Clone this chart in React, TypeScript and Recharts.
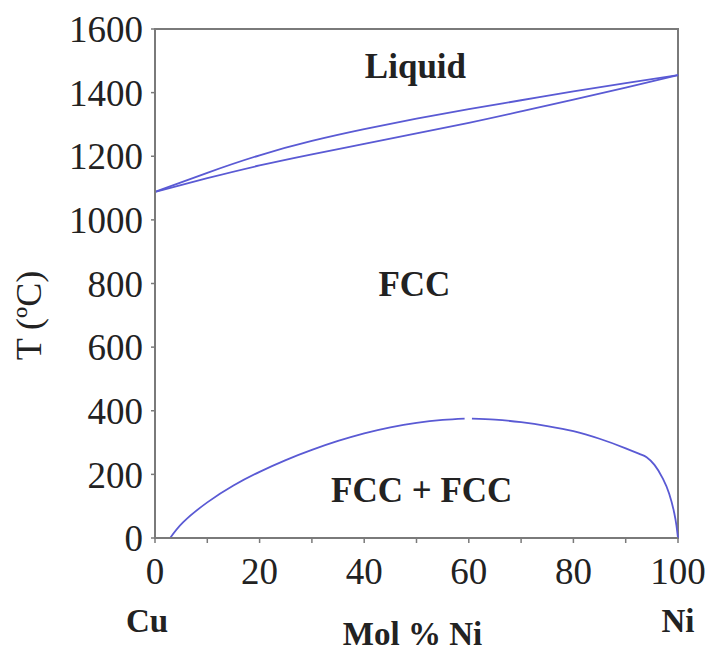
import { ComposedChart, Line, XAxis, YAxis, ReferenceDot, ReferenceArea } from "recharts";

const xTicks = [0, 10, 20, 30, 40, 50, 60, 70, 80, 90, 100];
const yTicks = [0, 200, 400, 600, 800, 1000, 1200, 1400, 1600];

// liquidus / solidus (Mol % Ni, T in ºC)
const liquidus = [
  { ni: 0, t: 1088 }, { ni: 10, t: 1148 }, { ni: 20, t: 1203 }, { ni: 30, t: 1248 },
  { ni: 40, t: 1285 }, { ni: 50, t: 1318 }, { ni: 60, t: 1348 }, { ni: 70, t: 1376 },
  { ni: 80, t: 1404 }, { ni: 90, t: 1430 }, { ni: 100, t: 1455 },
];
const solidus = [
  { ni: 0, t: 1088 }, { ni: 10, t: 1131 }, { ni: 20, t: 1171 }, { ni: 30, t: 1206 },
  { ni: 40, t: 1239 }, { ni: 50, t: 1272 }, { ni: 60, t: 1305 }, { ni: 70, t: 1341 },
  { ni: 80, t: 1378 }, { ni: 90, t: 1416 }, { ni: 100, t: 1455 },
];
// miscibility gap, drawn in two pieces
const gapLeft = [
  { ni: 2.9, t: 0 }, { ni: 5.4, t: 50 }, { ni: 10, t: 112 }, { ni: 15, t: 165 },
  { ni: 20, t: 208 }, { ni: 25, t: 245 }, { ni: 30, t: 277 }, { ni: 35, t: 305 },
  { ni: 40, t: 329 }, { ni: 45, t: 348 }, { ni: 50, t: 362 }, { ni: 55, t: 371 },
  { ni: 59.2, t: 375 },
];
const gapRight = [
  { ni: 60.6, t: 375 }, { ni: 65, t: 372 }, { ni: 70, t: 364 }, { ni: 75, t: 352 },
  { ni: 80, t: 336 }, { ni: 85, t: 312 }, { ni: 90, t: 282 }, { ni: 92.5, t: 265 },
  { ni: 94, t: 254 }, { ni: 95.5, t: 230 }, { ni: 97, t: 190 }, { ni: 98.3, t: 140 },
  { ni: 99.2, t: 85 }, { ni: 99.7, t: 40 }, { ni: 100, t: 0 },
];

const regions = [
  { ni: 49.8, t: 1483, text: "Liquid" },
  { ni: 49.6, t: 800, text: "FCC" },
  { ni: 51, t: 150, text: "FCC + FCC" },
];
const ends: Record<number, string> = { 0: "Cu", 100: "Ni" };

const FONT = "'Liberation Serif', serif";
const LINE = "#5a5ad4";
const AXIS = "#7a7a7a";

function XTick({ x, y, payload }: any) {
  const v = payload.value;
  return (
    <g>
      {v % 20 === 0 && (
        <text x={x} y={y} dy={41} textAnchor="middle" fontFamily={FONT} fontSize={37} fill="#222">
          {v}
        </text>
      )}
      {ends[v] && (
        <text x={x - (v === 0 ? 8 : 0)} y={y} dy={89} textAnchor="middle" fontFamily={FONT} fontSize={33} fontWeight="bold" fill="#222">
          {ends[v]}
        </text>
      )}
    </g>
  );
}

function RegionLabel({ viewBox, value }: any) {
  return (
    <text x={viewBox.x} y={viewBox.y} dy={12} textAnchor="middle" fontFamily={FONT} fontSize={35} fontWeight="bold" fill="#222">
      {value}
    </text>
  );
}

function XLabel({ viewBox }: any) {
  const cx = viewBox.x + viewBox.width / 2 - 4;
  return (
    <text x={cx} y={viewBox.y + 107} textAnchor="middle" fontFamily={FONT} fontSize={33} fontWeight="bold" fill="#222">
      Mol % Ni
    </text>
  );
}

function YLabel({ viewBox }: any) {
  const cx = 29;
  const cy = viewBox.y + viewBox.height / 2 + 32;
  return (
    <text x={cx} y={cy} transform={`rotate(-90 ${cx} ${cy})`} textAnchor="middle" dominantBaseline="central" fontFamily={FONT} fontSize={36} fill="#222">
      T (ºC)
    </text>
  );
}

export default function App() {
  return (
    <div style={{ position: "absolute", left: 0, top: 0, background: "#fff" }}>
      <ComposedChart width={710} height={653} margin={{ top: 29, right: 32, bottom: 0, left: 0 }}>
        <XAxis
          dataKey="ni" type="number" domain={[0, 100]} ticks={xTicks} interval={0}
          height={115} tickSize={5} tickMargin={0}
          stroke={AXIS} strokeWidth={2} tickLine={{ stroke: AXIS, strokeWidth: 1.5 }}
          tick={<XTick />}
          label={<XLabel />}
          allowDuplicatedCategory={false}
        />
        <YAxis
          type="number" domain={[0, 1600]} ticks={yTicks} interval={0} width={155}
          tickSize={4} tickMargin={8} stroke={AXIS} strokeWidth={2}
          tickLine={{ stroke: AXIS, strokeWidth: 1.5 }}
          tick={{ fontFamily: FONT, fontSize: 37, fill: "#222" }}
          label={<YLabel />}
        />
        <ReferenceArea x1={0} x2={100} y1={0} y2={1600} fill="none" stroke={AXIS} strokeWidth={2} />
        <Line data={liquidus} dataKey="t" type="natural" stroke={LINE} strokeWidth={1.8} dot={false} isAnimationActive={false} />
        <Line data={solidus} dataKey="t" type="natural" stroke={LINE} strokeWidth={1.8} dot={false} isAnimationActive={false} />
        <Line data={gapLeft} dataKey="t" type="natural" stroke={LINE} strokeWidth={1.8} dot={false} isAnimationActive={false} />
        <Line data={gapRight} dataKey="t" type="monotone" stroke={LINE} strokeWidth={1.8} dot={false} isAnimationActive={false} />
        {regions.map((r) => (
          <ReferenceDot key={r.text} x={r.ni} y={r.t} r={0} stroke="none" fill="none" label={<RegionLabel value={r.text} />} />
        ))}
      </ComposedChart>
    </div>
  );
}
